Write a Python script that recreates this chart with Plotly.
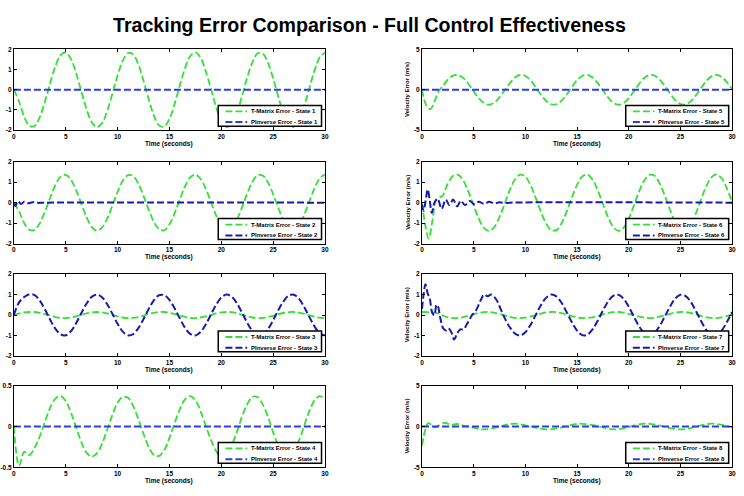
import plotly.graph_objects as go

TITLE = "Tracking Error Comparison - Full Control Effectiveness"
X_LABEL = "Time (seconds)"
Y_LABEL_RIGHT = "Velocity Error (m/s)"
X_TICKS = [0, 5, 10, 15, 20, 25, 30]
Y_TICKS_2 = [-2, -1, 0, 1, 2]
Y_TICKS_05 = [-0.5, 0, 0.5]
Y_TICKS_5 = [-5, 0, 5]

T = [0.0, 0.5, 1.0, 1.5, 2.0, 2.5, 3.0, 3.5, 4.0, 4.5, 5.0, 5.5, 6.0, 6.5, 7.0, 7.5,
     8.0, 8.5, 9.0, 9.5, 10.0, 10.5, 11.0, 11.5, 12.0, 12.5, 13.0, 13.5, 14.0, 14.5,
     15.0, 15.5, 16.0, 16.5, 17.0, 17.5, 18.0, 18.5, 19.0, 19.5, 20.0, 20.5, 21.0,
     21.5, 22.0, 22.5, 23.0, 23.5, 24.0, 24.5, 25.0, 25.5, 26.0, 26.5, 27.0, 27.5,
     28.0, 28.5, 29.0, 29.5, 30.0]

# ---- State 1 ----
G1 = [0, -0.58, -1.35, -1.79, -1.79, -1.35, -0.58, 0.33, 1.16, 1.71,
      1.84, 1.52, 0.83, -0.07, -0.95, -1.59, -1.85, -1.65, -1.05, -0.19,
      0.71, 1.44, 1.82, 1.75, 1.26, 0.45, -0.46, -1.27, -1.76, -1.82,
      -1.44, -0.70, 0.21, 1.06, 1.66, 1.85, 1.59, 0.93, 0.06, -0.84,
      -1.53, -1.84, -1.71, -1.15, -0.32, 0.60, 1.36, 1.80, 1.79, 1.34,
      0.57, -0.34, -1.17, -1.72, -1.84, -1.51, -0.81, 0.08, 0.96, 1.60, 1.85]
B1_T = [0, 30]
B1 = [0, 0]

# ---- State 2 ----
G2 = [0, -0.43, -1.00, -1.33, -1.33, -1.00, -0.43, 0.24, 0.86, 1.27,
      1.36, 1.12, 0.61, -0.05, -0.70, -1.18, -1.37, -1.22, -0.78, -0.14,
      0.53, 1.07, 1.35, 1.30, 0.93, 0.33, -0.34, -0.94, -1.30, -1.35,
      -1.06, -0.52, 0.15, 0.79, 1.23, 1.37, 1.17, 0.69, 0.04, -0.62,
      -1.13, -1.36, -1.26, -0.85, -0.23, 0.44, 1.01, 1.33, 1.32, 0.99,
      0.42, -0.25, -0.87, -1.27, -1.36, -1.12, -0.60, 0.06, 0.71, 1.19, 1.37]
B2_T = [0, 0.16, 0.38, 0.7, 1.0, 1.4, 1.8, 2.3, 3.0, 30]
B2 = [0, -0.16, 0.06, -0.06, 0.04, -0.03, 0.02, -0.01, 0, 0]

# ---- State 3 ----
G3 = [0, 0.08, 0.13, 0.15, 0.15, 0.10, 0.04, -0.03, -0.10, -0.14,
      -0.15, -0.12, -0.06, 0.01, 0.08, 0.13, 0.15, 0.13, 0.08, 0.01,
      -0.06, -0.12, -0.15, -0.14, -0.10, -0.03, 0.05, 0.11, 0.15, 0.15,
      0.11, 0.05, -0.02, -0.09, -0.14, -0.15, -0.12, -0.07, 0.00, 0.08,
      0.13, 0.15, 0.14, 0.09, 0.02, -0.06, -0.12, -0.15, -0.14, -0.10,
      -0.04, 0.04, 0.10, 0.14, 0.15, 0.12, 0.06, -0.02, -0.08, -0.13, -0.15]
B3 = [0, 0.62, 0.88, 1.02, 0.97, 0.70, 0.27, -0.23, -0.67, -0.94,
      -0.99, -0.79, -0.40, 0.09, 0.55, 0.89, 1.00, 0.87, 0.53, 0.06,
      -0.43, -0.81, -0.99, -0.93, -0.64, -0.20, 0.30, 0.72, 0.97, 0.97,
      0.74, 0.33, -0.16, -0.62, -0.92, -1.00, -0.83, -0.46, 0.02, 0.50,
      0.85, 1.00, 0.90, 0.58, 0.12, -0.37, -0.77, -0.98, -0.95, -0.69,
      -0.26, 0.24, 0.67, 0.95, 0.99, 0.79, 0.39, -0.10, -0.56, -0.89, -1.00]

# ---- State 4 ----
G4 = [0, -0.48, -0.31, -0.35, -0.26, -0.12, 0.06, 0.23, 0.34, 0.37,
      0.31, 0.17, -0.01, -0.19, -0.32, -0.37, -0.33, -0.21, -0.04, 0.14,
      0.29, 0.36, 0.35, 0.25, 0.09, -0.09, -0.25, -0.35, -0.36, -0.29,
      -0.14, 0.04, 0.21, 0.33, 0.37, 0.32, 0.19, 0.01, -0.16, -0.30,
      -0.37, -0.34, -0.23, -0.07, 0.12, 0.27, 0.36, 0.36, 0.27, 0.12,
      -0.07, -0.23, -0.34, -0.37, -0.30, -0.17, 0.01, 0.19, 0.32, 0.37, 0.33]
B4_T = [0, 30]
B4 = [0, 0]

# ---- State 5 ----
G5_T_EARLY = [0, 0.4, 0.8, 1.2, 1.6]
G5_EARLY = [0, -1.9, -2.4, -1.5, -0.2]
G5 = [0.46, 1.26, 1.76, 1.82, 1.44, 0.71, -0.20, -1.06, -1.66, -1.85,
      -1.59, -0.94, -0.06, 0.83, 1.52, 1.84, 1.71, 1.16, 0.32, -0.59,
      -1.36, -1.79, -1.79, -1.35, -0.58, 0.34, 1.17, 1.71, 1.84, 1.51,
      0.82, -0.08, -0.95, -1.60, -1.85, -1.65, -1.05, -0.18, 0.72, 1.45,
      1.82, 1.75, 1.25, 0.44, -0.47, -1.27, -1.76, -1.82, -1.43, -0.69,
      0.22, 1.07, 1.66, 1.85, 1.58, 0.93, 0.05]
B5_T = [0, 30]
B5 = [0, 0]

# ---- State 6 ----
G6_T_EARLY = [0, 0.35, 0.65, 1.0, 1.35, 1.7]
G6_EARLY = [0, -1.2, -1.75, -0.9, 0.1, 0.25]
G6 = [0.34, 0.94, 1.31, 1.36, 1.07, 0.53, -0.15, -0.79, -1.24, -1.38,
      -1.19, -0.70, -0.05, 0.62, 1.14, 1.37, 1.27, 0.86, 0.24, -0.44,
      -1.01, -1.34, -1.34, -1.01, -0.43, 0.25, 0.87, 1.28, 1.37, 1.13,
      0.61, -0.06, -0.71, -1.19, -1.38, -1.23, -0.78, -0.14, 0.54, 1.08,
      1.36, 1.31, 0.93, 0.33, -0.35, -0.95, -1.31, -1.36, -1.07, -0.52,
      0.16, 0.80, 1.24, 1.38, 1.18, 0.69, 0.03]
B6_T = [0, 0.15, 0.35, 0.55, 0.75, 0.95, 1.2, 1.5, 1.9, 2.3, 2.65, 3.0, 3.4,
        3.75, 4.15, 4.6, 5.1, 5.5, 6.0, 6.5, 7.0, 7.5, 8.0, 8.5, 30]
B6 = [-0.1, -0.4, 0.1, 0.65, 0.1, -0.5, 0.0, 0.2, -0.3, 0.15, -0.13, 0.15, -0.18,
      0.1, -0.12, 0.08, -0.08, 0.05, -0.06, 0.04, -0.04, 0.02, -0.02, 0, 0]

# ---- State 7 ----
G7 = [0.15, 0.14, 0.12, 0.08, -0.02, -0.11, -0.15, -0.14, -0.10, -0.03,
      0.04, 0.11, 0.14, 0.15, 0.11, 0.05, -0.02, -0.09, -0.14, -0.15,
      -0.13, -0.07, 0.00, 0.07, 0.13, 0.15, 0.14, 0.09, 0.02, -0.05,
      -0.11, -0.15, -0.14, -0.11, -0.04, 0.03, 0.10, 0.14, 0.15, 0.12,
      0.06, -0.01, -0.08, -0.13, -0.15, -0.13, -0.08, -0.01, 0.06, 0.12,
      0.15, 0.14, 0.10, 0.03, -0.04, -0.11, -0.14, -0.15, -0.11, -0.05, 0.02]
B7_T_EARLY = [0, 0.15, 0.33, 0.55, 0.75, 1.0, 1.2, 1.4, 1.55, 1.75, 2.05, 2.35,
              2.55, 2.85, 3.1, 3.4, 3.7, 4.0, 4.4, 4.85, 5.2, 5.7, 6.0, 6.35,
              6.7, 7.2, 7.6, 8.0]
B7_EARLY = [0.3, 1.0, 1.5, 1.05, 0.8, 0.1, 0.0, 0.5, 0.42, -0.1, -0.65, -0.75,
            -0.65, -0.85, -1.2, -0.9, -0.7, -0.7, -0.4, 0.0, 0.2, 0.75, 1.0, 0.92,
            1.0, 0.75, 0.3, -0.15]
B7 = [-0.60, -0.91, -1.00, -0.84, -0.48, 0.00, 0.48, 0.84, 1.00, 0.91,
      0.60, 0.14, -0.35, -0.76, -0.98, -0.96, -0.70, -0.28, 0.22, 0.66,
      0.94, 0.99, 0.80, 0.41, -0.08, -0.55, -0.88, -1.00, -0.87, -0.53,
      -0.06, 0.42, 0.81, 0.99, 0.93, 0.65, 0.20, -0.29, -0.72, -0.96,
      -0.98, -0.75, -0.34, 0.15]

# ---- State 8 ----
G8_T = [0, 0.3, 0.6, 0.9, 1.2, 1.6, 2.2, 2.8, 3.4, 4.0, 5.0, 5.8, 6.6, 7.5, 8.3,
        9.0, 9.8, 10.5, 11.2, 12.0, 12.8, 13.6, 14.4, 15.2, 16.0, 16.8, 17.6,
        18.4, 19.2, 20.0, 20.8, 21.6, 22.4, 23.2, 24.0, 24.8, 25.6, 26.4, 27.2,
        28.0, 28.8, 29.5, 30]
G8 = [-2.35, -0.5, 0.4, 0.2, -0.1, 0.1, 0.45, 0.2, 0.3, 0.1, -0.15, -0.35, -0.3,
      0.0, 0.25, 0.35, 0.2, 0.0, -0.2, -0.35, -0.3, -0.1, 0.15, 0.35, 0.25, 0.1,
      -0.15, -0.35, -0.3, -0.05, 0.2, 0.35, 0.25, 0.05, -0.2, -0.35, -0.3, -0.05,
      0.2, 0.35, 0.25, 0.05, -0.1]
B8_T = [0, 30]
B8 = [0, 0]

PANELS = [
    dict(state=1, gx=T, gy=G1, bx=B1_T, by=B1, yt=Y_TICKS_2),
    dict(state=2, gx=T, gy=G2, bx=B2_T, by=B2, yt=Y_TICKS_2),
    dict(state=3, gx=T, gy=G3, bx=T, by=B3, yt=Y_TICKS_2),
    dict(state=4, gx=T, gy=G4, bx=B4_T, by=B4, yt=Y_TICKS_05),
    dict(state=5, gx=G5_T_EARLY + T[4:], gy=G5_EARLY + G5, bx=B5_T, by=B5, yt=Y_TICKS_5),
    dict(state=6, gx=G6_T_EARLY + T[4:], gy=G6_EARLY + G6, bx=B6_T, by=B6, yt=Y_TICKS_2),
    dict(state=7, gx=T, gy=G7, bx=B7_T_EARLY + T[17:], by=B7_EARLY + B7, yt=Y_TICKS_2),
    dict(state=8, gx=G8_T, gy=G8, bx=B8_T, by=B8, yt=Y_TICKS_5),
]

# ---- styling / layout ----
W, H = 744, 496
COLS = [(11, 325), (423, 736)]
ROWS = [(46, 128), (160, 243), (274, 357), (387, 470)]
GREEN = "rgb(50,225,50)"
BLUES = ["rgb(45,60,235)", "rgb(25,25,175)", "rgb(25,25,175)", "rgb(45,60,235)"]
FONT = "Liberation Sans, Arial, sans-serif"
DASH = "7px,3px"

fig = go.Figure()
layout = dict(width=W, height=H, margin=dict(l=0, r=0, t=0, b=0),
              paper_bgcolor="white", plot_bgcolor="white", showlegend=False)
shapes = []
annotations = []

for i, p in enumerate(PANELS):
    n = i + 1
    col = 0 if i < 4 else 1
    row = i % 4
    x0p, x1p = COLS[col]
    y0p, y1p = ROWS[row]
    xs = "" if n == 1 else str(n)
    xa, ya = "x" + xs, "y" + xs
    blue = BLUES[row]
    fig.add_trace(go.Scatter(x=p["gx"], y=p["gy"], mode="lines", xaxis=xa, yaxis=ya,
                             line=dict(color=GREEN, width=1.8, dash=DASH, shape="spline"),
                             name="T-Matrix Error - State %d" % p["state"]))
    fig.add_trace(go.Scatter(x=p["bx"], y=p["by"], mode="lines", xaxis=xa, yaxis=ya,
                             line=dict(color=blue, width=2, dash=DASH, shape="spline"),
                             name="PInverse Error - State %d" % p["state"]))
    yt = p["yt"]
    axcommon = dict(showgrid=False, zeroline=False, showline=True, linecolor="black",
                    linewidth=1, mirror="ticks", ticks="inside", ticklen=3,
                    tickcolor="black",
                    tickfont=dict(family=FONT, size=6.5, color="black", weight="bold"))
    layout["xaxis" + xs] = dict(axcommon, domain=[x0p / W, x1p / W], anchor=ya,
                                range=[0, 30], tickvals=X_TICKS,
                                ticktext=[str(v) for v in X_TICKS])
    layout["yaxis" + xs] = dict(axcommon, domain=[1 - y1p / H, 1 - y0p / H], anchor=xa,
                                range=[yt[0], yt[-1]], tickvals=yt,
                                ticktext=[str(v) for v in yt])
    # x-axis label
    annotations.append(dict(text=X_LABEL, xref="paper", yref="paper",
                            x=(x0p + x1p) / 2 / W, y=1 - (y1p + 14) / H,
                            xanchor="center", yanchor="middle", showarrow=False,
                            font=dict(family=FONT, size=6.5, color="black", weight="bold")))
    if col == 1:
        annotations.append(dict(text=Y_LABEL_RIGHT, xref="paper", yref="paper",
                                x=408 / W, y=1 - (y0p + y1p) / 2 / H, textangle=-90,
                                xanchor="center", yanchor="middle", showarrow=False,
                                font=dict(family=FONT, size=6, color="black", weight="bold")))
    # legend box drawn in axis-domain coordinates
    dx = xa + " domain"
    dy = ya + " domain"
    shapes.append(dict(type="rect", xref=dx, yref=dy, x0=0.657, x1=0.989, y0=0.05, y1=0.305,
                       line=dict(color="black", width=1.5), fillcolor="white", layer="above"))
    for k, (yy, c, lab) in enumerate([(0.232, GREEN, "T-Matrix Error - State %d" % p["state"]),
                                      (0.10, blue, "PInverse Error - State %d" % p["state"])]):
        shapes.append(dict(type="line", xref=dx, yref=dy, x0=0.68, x1=0.75, y0=yy, y1=yy,
                           line=dict(color=c, width=1.8 if k == 0 else 2, dash=DASH),
                           layer="above"))
        annotations.append(dict(text=lab, xref=dx, yref=dy, x=0.755, y=yy,
                                xanchor="left", yanchor="middle", showarrow=False,
                                font=dict(family=FONT, size=6, color="black", weight="bold")))

annotations.append(dict(text=TITLE, xref="paper", yref="paper", x=370 / W, y=1 - 21 / H,
                        xanchor="center", yanchor="middle", showarrow=False,
                        font=dict(family="Liberation Sans, Arial, sans-serif",
                                  size=19.6, color="black", weight="bold")))

layout["shapes"] = shapes
layout["annotations"] = annotations
fig.update_layout(**layout)
fig.write_html("out.html")
